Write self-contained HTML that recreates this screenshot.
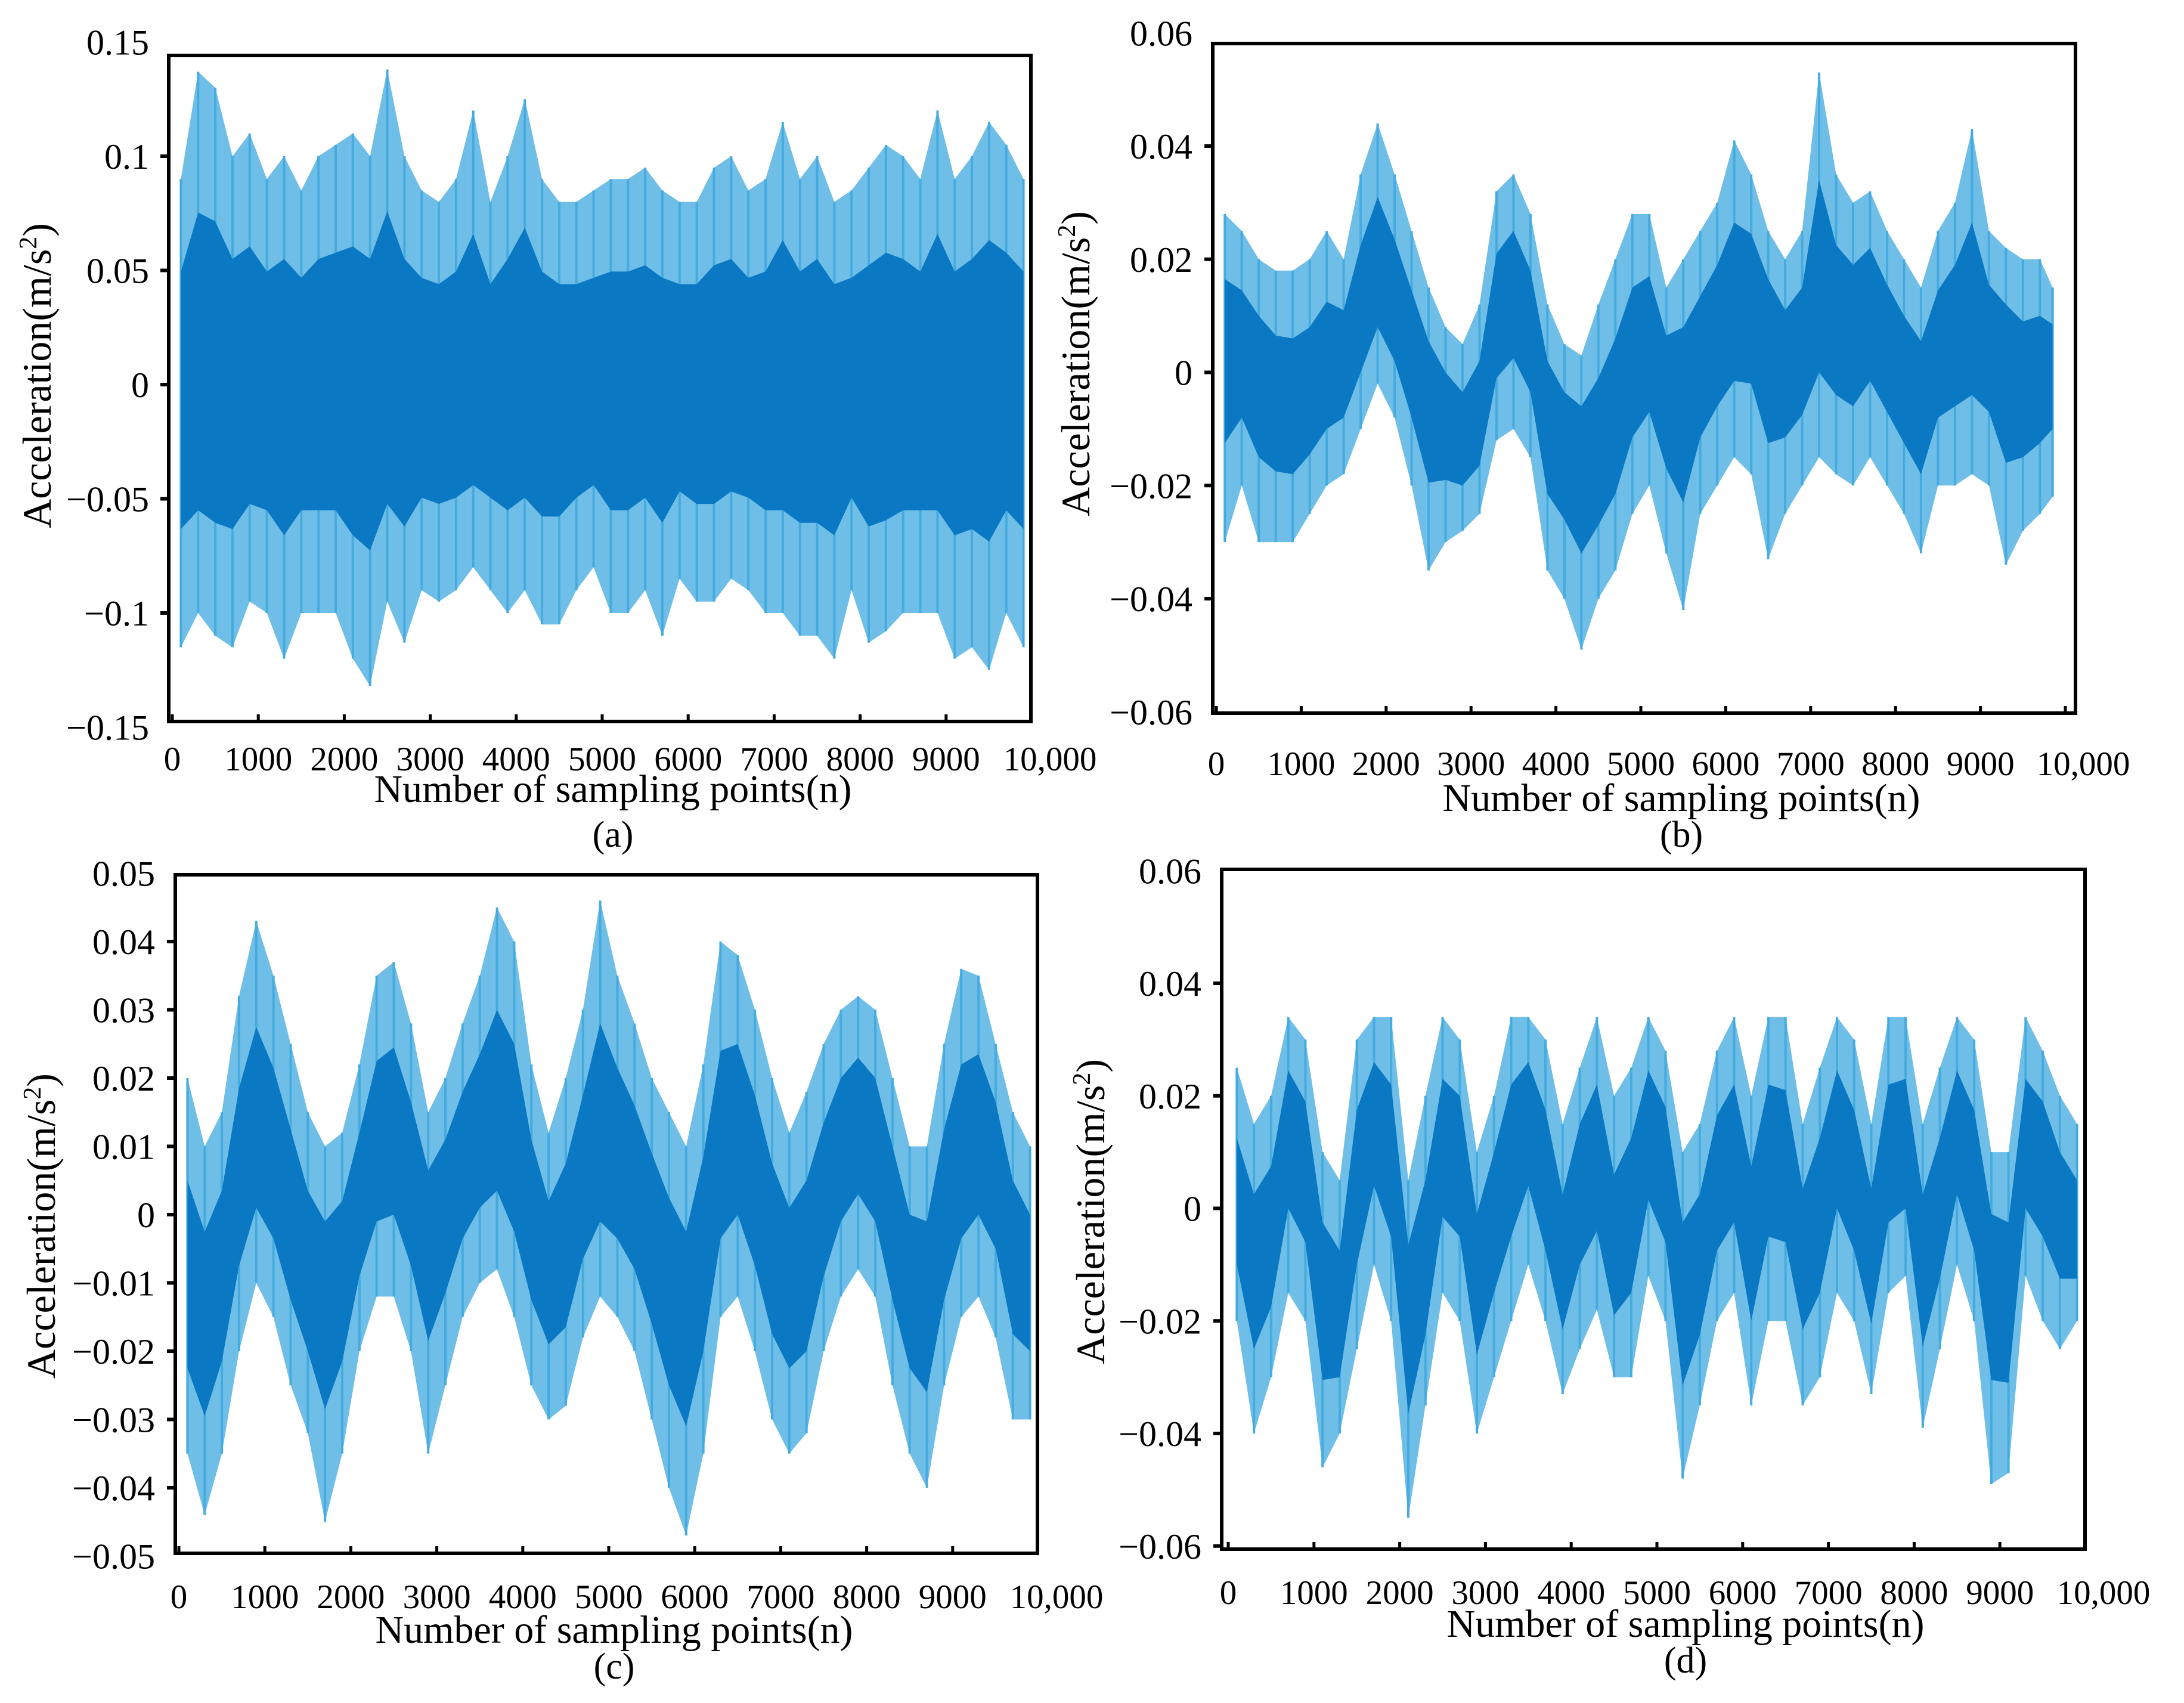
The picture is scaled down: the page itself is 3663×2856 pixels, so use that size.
<!DOCTYPE html>
<html><head><meta charset="utf-8">
<style>
html,body{margin:0;padding:0;background:#fff;}
svg{display:block;}
text{font-family:"Liberation Serif",serif;fill:#000;}
</style></head>
<body>
<svg id="fig" width="3663" height="2856" viewBox="0 0 3663 2856" xmlns="http://www.w3.org/2000/svg"></svg>
<script>
// ---- data: per 200-sample bin (centers 100..9900) ----
const binCenters = [100,300,500,700,900,1100,1300,1500,1700,1900,2100,2300,2500,2700,2900,3100,3300,3500,3700,3900,4100,4300,4500,4700,4900,5100,5300,5500,5700,5900,6100,6300,6500,6700,6900,7100,7300,7500,7700,7900,8100,8300,8500,8700,8900,9100,9300,9500,9700,9900];
const xTicks = [0,1000,2000,3000,4000,5000,6000,7000,8000,9000,10000];
const xTickLabels = ["0","1000","2000","3000","4000","5000","6000","7000","8000","9000","10,000"];

const aMid = [0,0,0,0,0,0,0,0,0,0,0,0,0,0,0,0,0,0,0,0,0,0,0,0,0,0,0,0,0,0,0,0,0,0,0,0,0,0,0,0,0,0,0,0,0,0,0,0,0,0];
const aMax = [0.09,0.137,0.13,0.1,0.11,0.09,0.1,0.085,0.1,0.105,0.11,0.1,0.138,0.1,0.085,0.08,0.09,0.12,0.08,0.1,0.125,0.09,0.08,0.08,0.085,0.09,0.09,0.095,0.085,0.08,0.08,0.095,0.1,0.085,0.09,0.115,0.09,0.1,0.08,0.085,0.095,0.105,0.1,0.09,0.12,0.09,0.1,0.115,0.105,0.09];
const aMin = [-0.115,-0.1,-0.11,-0.115,-0.095,-0.1,-0.12,-0.1,-0.1,-0.1,-0.12,-0.132,-0.095,-0.113,-0.09,-0.095,-0.09,-0.08,-0.09,-0.1,-0.09,-0.105,-0.105,-0.09,-0.08,-0.1,-0.1,-0.09,-0.11,-0.085,-0.095,-0.095,-0.085,-0.09,-0.1,-0.1,-0.11,-0.11,-0.12,-0.09,-0.113,-0.108,-0.1,-0.1,-0.1,-0.12,-0.115,-0.125,-0.1,-0.115];
const aTicks = [0.15,0.1,0.05,0,-0.05,-0.1,-0.15];
const aTickLabels = ["0.15","0.1","0.05","0","\u22120.05","\u22120.1","\u22120.15"];

const bMid = [0.005,0.004,0.0,-0.005,-0.006,-0.004,0.0,0.002,0.01,0.018,0.012,0.004,-0.004,-0.008,-0.012,-0.008,0.01,0.015,0.008,-0.008,-0.012,-0.015,-0.014,-0.008,0.002,0.006,-0.002,-0.004,0.002,0.008,0.012,0.014,0.008,0.002,0.005,0.015,0.01,0.008,0.012,0.006,0.0,-0.004,0.004,0.008,0.01,0.006,0.002,-0.002,0.0,0.002];
const bMax = [0.028,0.025,0.02,0.018,0.018,0.02,0.025,0.02,0.035,0.044,0.035,0.025,0.015,0.008,0.005,0.012,0.032,0.035,0.028,0.012,0.005,0.003,0.012,0.02,0.028,0.028,0.015,0.02,0.025,0.03,0.041,0.035,0.025,0.02,0.025,0.053,0.035,0.03,0.032,0.025,0.02,0.015,0.025,0.03,0.043,0.025,0.022,0.02,0.02,0.015];
const bMin = [-0.03,-0.02,-0.03,-0.03,-0.03,-0.025,-0.02,-0.018,-0.01,-0.002,-0.008,-0.02,-0.035,-0.03,-0.028,-0.025,-0.012,-0.01,-0.015,-0.035,-0.04,-0.049,-0.04,-0.035,-0.025,-0.02,-0.032,-0.042,-0.025,-0.02,-0.015,-0.018,-0.033,-0.025,-0.02,-0.015,-0.018,-0.02,-0.015,-0.02,-0.025,-0.032,-0.02,-0.02,-0.018,-0.02,-0.034,-0.028,-0.025,-0.022];
const bTicks = [0.06,0.04,0.02,0,-0.02,-0.04,-0.06];
const bTickLabels = ["0.06","0.04","0.02","0","\u22120.02","\u22120.04","\u22120.06"];

const cMid = [-0.01,-0.015,-0.008,0.005,0.012,0.008,0.0,-0.008,-0.012,-0.008,0.002,0.01,0.012,0.005,-0.002,0.002,0.008,0.012,0.015,0.01,0.0,-0.008,-0.005,0.005,0.01,0.008,0.004,-0.002,-0.01,-0.015,-0.005,0.008,0.012,0.005,-0.005,-0.01,-0.008,0.002,0.01,0.014,0.01,0.0,-0.01,-0.012,0.0,0.008,0.012,0.008,-0.005,-0.01];
const cMax = [0.02,0.01,0.015,0.032,0.043,0.035,0.025,0.015,0.01,0.012,0.022,0.035,0.037,0.028,0.015,0.02,0.028,0.035,0.045,0.04,0.022,0.012,0.02,0.03,0.046,0.035,0.028,0.02,0.015,0.01,0.022,0.04,0.038,0.03,0.02,0.012,0.018,0.025,0.03,0.032,0.03,0.02,0.01,0.01,0.025,0.036,0.035,0.025,0.015,0.01];
const cMin = [-0.035,-0.044,-0.035,-0.02,-0.01,-0.015,-0.025,-0.032,-0.045,-0.035,-0.02,-0.012,-0.012,-0.02,-0.035,-0.025,-0.015,-0.01,-0.008,-0.015,-0.025,-0.03,-0.028,-0.018,-0.012,-0.015,-0.02,-0.03,-0.04,-0.047,-0.035,-0.015,-0.012,-0.02,-0.03,-0.035,-0.032,-0.02,-0.012,-0.008,-0.012,-0.025,-0.035,-0.04,-0.025,-0.015,-0.012,-0.018,-0.03,-0.03];
const cTicks = [0.05,0.04,0.03,0.02,0.01,0,-0.01,-0.02,-0.03,-0.04,-0.05];
const cTickLabels = ["0.05","0.04","0.03","0.02","0.01","0","\u22120.01","\u22120.02","\u22120.03","\u22120.04","\u22120.05"];

const dMid = [0.0,-0.01,-0.005,0.015,0.008,-0.015,-0.02,0.005,0.018,0.01,-0.018,-0.01,0.012,0.01,-0.012,0.0,0.01,0.018,0.005,-0.01,0.005,0.01,-0.008,0.0,0.015,0.008,-0.015,-0.01,0.005,0.01,-0.005,0.01,0.008,-0.008,0.0,0.015,0.005,-0.008,0.01,0.012,-0.01,0.0,0.015,0.005,-0.012,-0.015,0.012,0.01,0.0,-0.005];
const dMax = [0.025,0.015,0.02,0.034,0.03,0.01,0.005,0.03,0.034,0.034,0.005,0.02,0.034,0.03,0.01,0.02,0.034,0.034,0.03,0.015,0.025,0.034,0.02,0.025,0.034,0.028,0.01,0.015,0.028,0.034,0.02,0.034,0.034,0.015,0.025,0.034,0.03,0.015,0.034,0.034,0.015,0.025,0.034,0.03,0.01,0.01,0.034,0.028,0.02,0.015];
const dMin = [-0.02,-0.04,-0.03,-0.015,-0.02,-0.046,-0.04,-0.025,-0.01,-0.02,-0.055,-0.035,-0.015,-0.02,-0.04,-0.03,-0.02,-0.01,-0.02,-0.033,-0.025,-0.018,-0.03,-0.03,-0.012,-0.02,-0.048,-0.035,-0.02,-0.015,-0.035,-0.02,-0.02,-0.035,-0.03,-0.015,-0.02,-0.033,-0.015,-0.012,-0.039,-0.025,-0.01,-0.02,-0.049,-0.047,-0.012,-0.02,-0.025,-0.02];
const dTicks = [0.06,0.04,0.02,0,-0.02,-0.04,-0.06];
const dTickLabels = ["0.06","0.04","0.02","0","\u22120.02","\u22120.04","\u22120.06"];

// ---- layout ----
const NS = "http://www.w3.org/2000/svg";
const svg = document.getElementById('fig');
function mk(tag, attrs, parent){
  const e = document.createElementNS(NS, tag);
  for (const k in attrs) e.setAttribute(k, attrs[k]);
  (parent||svg).appendChild(e);
  return e;
}
const panels = [
  {id:'a', mid:aMid, max:aMax, min:aMin, ticks:aTicks, labels:aTickLabels, core:0.55,
   fx0:283, fx1:1729, fy0:93, fy1:1210, x0:289, xPer:144.2, xEnd:10000,
   yv1:0.1, yp1:262, yv2:-0.1, yp2:1028, tickRight:250, xLabY:1292, yTitleX:63, yTitleY:630,
   titleX:1028, titleY:1345, capY:1420},
  {id:'b', mid:bMid, max:bMax, min:bMin, ticks:bTicks, labels:bTickLabels, core:0.5,
   fx0:2034, fx1:3481, fy0:73, fy1:1196, x0:2040, xPer:142.4, xEnd:9850,
   yv1:0.04, yp1:245, yv2:-0.04, yp2:1004, tickRight:2000, xLabY:1300, yTitleX:1805, yTitleY:610,
   titleX:2820, titleY:1360, capY:1420},
  {id:'c', mid:cMid, max:cMax, min:cMin, ticks:cTicks, labels:cTickLabels, core:0.5,
   fx0:294, fx1:1740, fy0:1467, fy1:2605, x0:300, xPer:144.2, xEnd:10000,
   yv1:0.04, yp1:1579, yv2:-0.04, yp2:2495, tickRight:260, xLabY:2697, yTitleX:70, yTitleY:2056,
   titleX:1030, titleY:2755, capY:2815},
  {id:'d', mid:dMid, max:dMax, min:dMin, ticks:dTicks, labels:dTickLabels, core:0.5,
   fx0:2049, fx1:3497, fy0:1458, fy1:2598, x0:2060, xPer:143.8, xEnd:9900,
   yv1:0.04, yp1:1649, yv2:-0.04, yp2:2404, tickRight:2015, xLabY:2690, yTitleX:1830, yTitleY:2032,
   titleX:2827, titleY:2745, capY:2805}
];

panels.forEach(p => {
  const g = mk('g', {});
  
  
  const xs = v => p.x0 + v / 1000 * p.xPer;
  const ys = v => p.yp1 + (v - p.yv1) * (p.yp2 - p.yp1) / (p.yv2 - p.yv1);
  const xr = Math.min(xs(p.xEnd), p.fx1 - 3);
  const xl = p.fx0 + 10;
  const xp = i => Math.max(xl, Math.min(xr, xs(binCenters[i])));

  let top = [], bot = [], ctop = [], cbot = [];
  binCenters.forEach((c, i) => {
    const hi = p.mid[i] + p.core * (p.max[i] - p.mid[i]);
    const lo = p.mid[i] + p.core * (p.min[i] - p.mid[i]);
    top.push(xp(i).toFixed(1) + ',' + ys(p.max[i]).toFixed(1));
    bot.unshift(xp(i).toFixed(1) + ',' + ys(p.min[i]).toFixed(1));
    ctop.push(xp(i).toFixed(1) + ',' + ys(hi).toFixed(1));
    cbot.unshift(xp(i).toFixed(1) + ',' + ys(lo).toFixed(1));
  });
  const env = mk('polygon', {points: top.concat(bot).join(' '), fill:'#6fbee8'}, g);
  
  
  binCenters.forEach((c, i) => {
    const s = mk('line', {x1:xp(i), x2:xp(i), y1:ys(p.max[i]), y2:ys(p.min[i]), stroke:'#45abdf', 'stroke-width':4}, g);
    
    
  });
  const core = mk('polygon', {points: ctop.concat(cbot).join(' '), fill:'#0a78c2'}, g);
  
  

  const fr = mk('rect', {x:p.fx0, y:p.fy0, width:p.fx1 - p.fx0, height:p.fy1 - p.fy0, fill:'none', stroke:'#000', 'stroke-width':6}, g);
  
  

  p.ticks.forEach((t, i) => {
    const y = ys(t);
    if (y > p.fy0 + 5 && y < p.fy1 - 5) {
      const tk = mk('line', {x1:p.fx0 - 14, x2:p.fx0, y1:y, y2:y, stroke:'#000', 'stroke-width':6}, g);
      
      
    }
    const tl = mk('text', {x:p.tickRight, y:y + 21, 'text-anchor':'end', 'font-size':60}, g);
    tl.textContent = p.labels[i];
    
    
  });
  xTicks.forEach((t, i) => {
    const x = xs(t);
    if (x > p.fx0 + 5 && x < p.fx1 - 5) {
      const tk = mk('line', {x1:x, x2:x, y1:p.fy1, y2:p.fy1 - 12, stroke:'#000', 'stroke-width':5}, g);
      
      
    }
    const last = i === xTicks.length - 1;
    const tl = mk('text', {x: last ? x + 30 : x, y:p.xLabY, 'text-anchor':'middle', 'font-size':57}, g);
    tl.textContent = xTickLabels[i];
    
    
  });
  const xt = mk('text', {x:p.titleX, y:p.titleY, 'text-anchor':'middle', 'font-size':66}, g);
  xt.textContent = 'Number of sampling points(n)';
  
  
  const yt = mk('text', {x:0, y:0, 'text-anchor':'middle', 'font-size':68, transform:'translate(' + (p.yTitleX + 22) + ',' + p.yTitleY + ') rotate(-90)'}, g);
  yt.textContent = 'Acceleration(m/s';
  const sup = mk('tspan', {dy:-24, 'font-size':42}, yt);
  sup.textContent = '2';
  const cl = mk('tspan', {dy:24}, yt);
  cl.textContent = ')';
  
  
  const cap = mk('text', {x:p.titleX, y:p.capY, 'text-anchor':'middle', 'font-size':62}, g);
  cap.textContent = '(' + p.id + ')';
  
  
});
</script>
</body></html>
